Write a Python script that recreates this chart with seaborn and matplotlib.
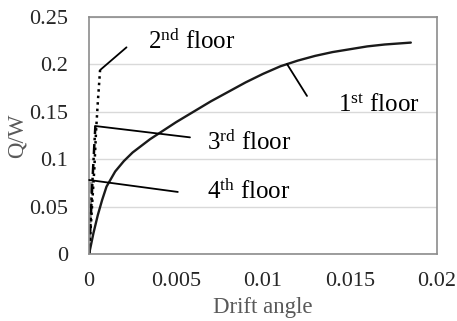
import matplotlib
matplotlib.use("Agg")
import matplotlib.pyplot as plt
import seaborn as sns
import pandas as pd

# 1st floor
x1 = [0, 0.00025, 0.0005, 0.00075, 0.001, 0.0015, 0.002, 0.0025, 0.003, 0.0035,
      0.004, 0.005, 0.006, 0.007, 0.008, 0.009, 0.010, 0.011, 0.012, 0.013,
      0.014, 0.015, 0.016, 0.017, 0.0185]
y1 = [0, 0.022, 0.041, 0.057, 0.071, 0.087, 0.098, 0.107, 0.114, 0.121,
      0.127, 0.139, 0.150, 0.161, 0.171, 0.181, 0.190, 0.198, 0.204, 0.209,
      0.213, 0.216, 0.219, 0.221, 0.223]
# 2nd floor
x2 = [0, 0.0001, 0.0002, 0.0003, 0.0004, 0.0005, 0.00063]
y2 = [0, 0.03, 0.06, 0.09, 0.13, 0.16, 0.194]
# 3rd floor
x3 = [0, 0.0001, 0.0002, 0.0003, 0.00036]
y3 = [0, 0.04, 0.08, 0.115, 0.135]
# 4th floor
x4 = [0, 0.00005, 0.0001, 0.00015]
y4 = [0, 0.03, 0.06, 0.08]

xticks = [0, 0.005, 0.01, 0.015, 0.02]
xticklabels = ["0", "0.005", "0.01", "0.015", "0.02"]
yticks = [0, 0.05, 0.1, 0.15, 0.2, 0.25]
yticklabels = ["0", "0.05", "0.1", "0.15", "0.2", "0.25"]

sns.set_theme(style="white")
plt.rcParams['font.family'] = ['Liberation Serif', 'DejaVu Serif']
plt.rcParams['mathtext.fontset'] = 'custom'
plt.rcParams['mathtext.rm'] = 'Liberation Serif'
plt.rcParams['mathtext.it'] = 'Liberation Serif:italic'

fig = plt.figure(figsize=(4.57, 3.21), dpi=100)
ax = fig.add_axes([0.195, 0.209, 0.761, 0.738])

d1 = pd.DataFrame({"x": x1, "y": y1})
d2 = pd.DataFrame({"x": x2, "y": y2})
d3 = pd.DataFrame({"x": x3, "y": y3})
d4 = pd.DataFrame({"x": x4, "y": y4})

sns.lineplot(data=d4, x="x", y="y", ax=ax, color="#8c8c8c", lw=2.0,
             linestyle=(0, (4, 1.5)), sort=False)
sns.lineplot(data=d3, x="x", y="y", ax=ax, color="black", lw=1.8,
             linestyle=(0, (4, 1.5, 1, 1.5)), sort=False)
sns.lineplot(data=d2, x="x", y="y", ax=ax, color="black", lw=1.8,
             linestyle=(0, (1, 1.6)), sort=False)
sns.lineplot(data=d1, x="x", y="y", ax=ax, color="#1a1a1a", lw=1.7, sort=False)

ax.set_xlim(0, 0.02)
ax.set_ylim(0, 0.25)
ax.set_xticks(xticks)
ax.set_xticklabels(xticklabels)
ax.set_yticks(yticks)
ax.set_yticklabels(yticklabels)
ax.tick_params(axis='x', length=0, labelsize=16, colors="#262626", pad=13)
ax.tick_params(axis='y', length=0, labelsize=16, colors="#262626", pad=15)
ax.yaxis.grid(True, color="#d9d9d9", lw=1.0)
ax.xaxis.grid(False)
for s in ax.spines.values():
    s.set_color("#8c8c8c")
    s.set_linewidth(1.2)
    s.set_visible(True)

ax.set_xlabel("Drift angle", fontsize=16.5, color="#595959", labelpad=4)
ax.set_ylabel("Q/W", fontsize=16.5, color="#595959", labelpad=1)

lp = dict(arrowstyle='-', color='black', lw=1.3, shrinkA=0, shrinkB=0)
tk = dict(fontsize=18, color='black', va='baseline', ha='left')
ax.annotate("", xy=(0.00063, 0.194), xytext=(0.00215, 0.218), arrowprops=lp)
ax.text(0.0034, 0.2162, r"2$^{\mathrm{nd}}$ floor", **tk)
ax.annotate("", xy=(0.00034, 0.135), xytext=(0.0058, 0.123), arrowprops=lp)
ax.text(0.00678, 0.1097, r"3$^{\mathrm{rd}}$ floor", **tk)
ax.annotate("", xy=(0.0, 0.078), xytext=(0.0051, 0.0654), arrowprops=lp)
ax.text(0.00678, 0.058, r"4$^{\mathrm{th}}$ floor", **tk)
ax.annotate("", xy=(0.01138, 0.2004), xytext=(0.01253, 0.1667), arrowprops=lp)
ax.text(0.01431, 0.1498, r"1$^{\mathrm{st}}$ floor", **tk)

fig.savefig("out.png", dpi=100)
